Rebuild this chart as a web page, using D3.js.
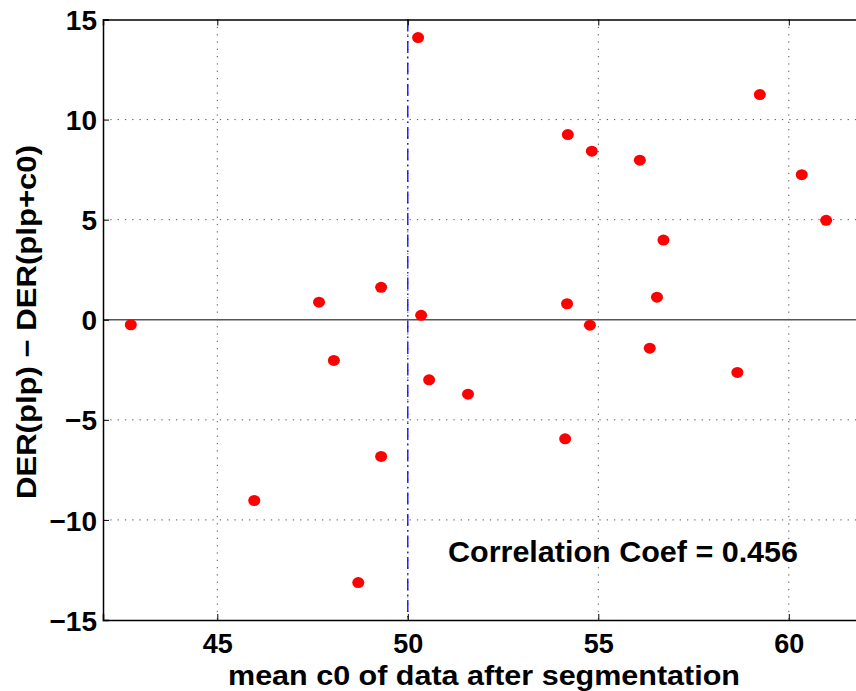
<!DOCTYPE html>
<html><head><meta charset="utf-8">
<script src="https://cdn.jsdelivr.net/npm/d3@7"></script>
<style>
body{margin:0;background:#fff;}
svg text{font-family:"Liberation Sans",Arial,Helvetica,sans-serif;font-weight:bold;fill:#000;}
</style></head>
<body><svg id="c" width="856" height="691"></svg>
<script>
const xValues=[42.73,45.97,47.67,48.06,48.70,49.30,49.30,50.27,50.35,50.56,51.58,54.13,54.18,54.20,54.78,54.83,56.09,56.35,56.54,56.71,58.65,59.24,60.34,60.98];
const yValues=[-0.25,-9.03,0.88,-2.03,-13.13,1.62,-6.83,14.1,0.22,-3.0,-3.72,-5.95,0.8,9.25,-0.27,8.42,7.97,-1.42,1.13,3.98,-2.63,11.25,7.25,4.97];
const xTicks=[45,50,55,60];
const yTicks=[-15,-10,-5,0,5,10,15];
const xLabel="mean c0 of data after segmentation";
const yLabel="DER(plp) \u2212 DER(plp+c0)";
const annotation="Correlation Coef = 0.456";

const svg=d3.select("#c");
const L=103,T=19.5,R=865,B=620;
const x=d3.scaleLinear().domain([42,62]).range([L,R]);
const y=d3.scaleLinear().domain([-15,15]).range([B,T]);

// grid
const g=svg.append("g");
g.selectAll(".gx").data(xTicks).enter().append("line")
 .attr("x1",d=>x(d)).attr("x2",d=>x(d)).attr("y1",T).attr("y2",B)
 .attr("stroke","#555").attr("stroke-width",1).attr("stroke-dasharray","1.3,6");
g.selectAll(".gy").data(yTicks.filter(d=>d!==0&&d!==15&&d!==-15)).enter().append("line")
 .attr("x1",L).attr("x2",R).attr("y1",d=>y(d)).attr("y2",d=>y(d))
 .attr("stroke","#555").attr("stroke-width",1).attr("stroke-dasharray","1.3,6");

// zero line
svg.append("line").attr("x1",L).attr("x2",R).attr("y1",y(0)).attr("y2",y(0))
 .attr("stroke","#555").attr("stroke-width",1.5);
// vertical dash-dot
svg.append("line").attr("x1",x(50)).attr("x2",x(50)).attr("y1",T).attr("y2",B)
 .attr("stroke","#0000ff").attr("stroke-width",1.3).attr("stroke-dasharray","12,4,1.5,4");

// axes
const xa=svg.append("g").attr("transform",`translate(0,${B})`)
 .call(d3.axisBottom(x).tickValues(xTicks).tickSize(-6).tickFormat(d3.format("d")));
const xt=svg.append("g").attr("transform",`translate(0,${T})`)
 .call(d3.axisTop(x).tickValues(xTicks).tickSize(-6).tickFormat(""));
const ya=svg.append("g").attr("transform",`translate(${L},0)`)
 .call(d3.axisLeft(y).tickValues(yTicks).tickSize(-6).tickPadding(6).tickFormat(d=>d<0?"\u2212"+Math.abs(d):d));
[xa,xt,ya].forEach(a=>{a.select(".domain").attr("stroke","#000").attr("stroke-width",1.5);
 a.selectAll(".tick line").attr("stroke","#000");
 a.selectAll("text").style("font-family","Liberation Sans, Arial, sans-serif").style("font-weight","bold").attr("fill","#000");});
ya.selectAll("text").style("font-size","28px").attr("dy","0.36em");
xa.selectAll("text").style("font-size","27px").attr("dy",null).attr("y",33);

// points
svg.append("g").selectAll("ellipse").data(xValues.map((v,i)=>[v,yValues[i]])).enter().append("ellipse")
 .attr("cx",d=>x(d[0])).attr("cy",d=>y(d[1])).attr("rx",6).attr("ry",5.5).attr("fill","#ff0000");

// labels
svg.append("text").attr("x",484).attr("y",685).attr("text-anchor","middle").style("font-size","28px")
 .attr("textLength",512).attr("lengthAdjust","spacingAndGlyphs").text(xLabel);
svg.append("text").attr("transform",`translate(36,322) rotate(-90)`).attr("text-anchor","middle").style("font-size","27px")
 .attr("textLength",354).attr("lengthAdjust","spacingAndGlyphs").text(yLabel);
svg.append("text").attr("x",448).attr("y",562).style("font-size","30px")
 .attr("textLength",350).attr("lengthAdjust","spacingAndGlyphs").text(annotation);
</script></body></html>
